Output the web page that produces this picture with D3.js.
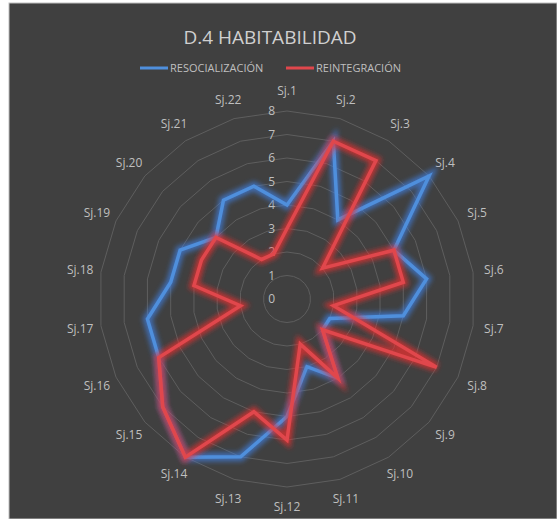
<!DOCTYPE html>
<html>
<head>
<meta charset="utf-8">
<script src="https://cdn.jsdelivr.net/npm/d3@7"></script>
<style>
  body { margin: 0; background: #fff; }
  svg { display: block; }
  text { font-family: "Open Sans", "Liberation Sans", sans-serif; }
</style>
</head>
<body>
<div id="chart"></div>
<script>
// chart data
const subjects = ["Sj.1","Sj.2","Sj.3","Sj.4","Sj.5","Sj.6","Sj.7","Sj.8","Sj.9","Sj.10","Sj.11",
                  "Sj.12","Sj.13","Sj.14","Sj.15","Sj.16","Sj.17","Sj.18","Sj.19","Sj.20","Sj.21","Sj.22"];
const resocializacion = [4,7,4,8,5,6,5,2,2,4,3,5,7,8,7,6,6,5,5,4,5,5];
const reintegracion   = [3,7,7,2,5,5,2,7,2,4,2,6,5,8,7,6,2,4,4,4,2,2];
const ticks = [0,1,2,3,4,5,6,7,8];

const width = 557, height = 519;
const cx = 287, cy = 299, radius = 188;

const svg = d3.select("#chart").append("svg")
  .attr("width", width)
  .attr("height", height);

// white page edge and dark plot card
svg.append("rect").attr("width", width).attr("height", height).attr("fill", "#ffffff");
svg.append("rect").attr("x", 9).attr("y", 3).attr("width", width - 9).attr("height", height - 3)
  .attr("fill", "#404040").attr("stroke", "#bfbfbf").attr("stroke-width", 1);

const defs = svg.append("defs");
defs.append("filter").attr("id", "glow")
  .attr("x", "-20%").attr("y", "-20%").attr("width", "140%").attr("height", "140%")
  .append("feGaussianBlur").attr("stdDeviation", 2.4);

const r = d3.scaleLinear().domain([0, 8]).range([0, radius]);
const angle = d3.scaleLinear().domain([0, subjects.length]).range([0, 2 * Math.PI]);

const g = svg.append("g").attr("transform", "translate(" + cx + "," + cy + ")");

// grid polygons
const radial = d3.lineRadial()
  .angle((d, i) => angle(i))
  .radius(d => r(d))
  .curve(d3.curveLinearClosed);

g.selectAll("path.grid")
  .data(ticks.slice(1))
  .enter().append("path")
  .attr("class", "grid")
  .attr("d", t => radial(subjects.map(() => t)))
  .attr("fill", "none")
  .attr("stroke", "#5e5e5e")
  .attr("stroke-width", 1);

// tick labels
g.selectAll("text.tick")
  .data(ticks)
  .enter().append("text")
  .attr("class", "tick")
  .attr("x", -12)
  .attr("y", t => -r(t))
  .attr("dy", "0.35em")
  .attr("text-anchor", "end")
  .attr("fill", "#bfbfbf")
  .style("font-size", "12px")
  .text(t => t);

// axis labels
g.selectAll("text.axis")
  .data(subjects)
  .enter().append("text")
  .attr("class", "axis")
  .attr("x", (d, i) => Math.sin(angle(i)) * (radius + 21))
  .attr("y", (d, i) => -Math.cos(angle(i)) * (radius + 20))
  .attr("dy", "0.35em")
  .attr("text-anchor", "middle")
  .attr("fill", "#bfbfbf")
  .style("font-size", "12px")
  .text(d => d);

// series
const series = [
  {name: "RESOCIALIZACIÓN", values: resocializacion, color: "#4f8fdc", glow: "#3f7fe0"},
  {name: "REINTEGRACIÓN", values: reintegracion, color: "#e0474c", glow: "#f03030"}
];

series.forEach(s => {
  g.append("path")
    .attr("d", radial(s.values))
    .attr("fill", "none")
    .attr("stroke", s.glow)
    .attr("stroke-opacity", 0.7)
    .attr("stroke-width", 9)
    .attr("stroke-linejoin", "miter")
    .attr("filter", "url(#glow)");
  g.append("path")
    .attr("d", radial(s.values))
    .attr("fill", "none")
    .attr("stroke", s.color)
    .attr("stroke-width", 3.5)
    .attr("stroke-linejoin", "miter");
});

// title
svg.append("text")
  .attr("x", cx - 17)
  .attr("y", 44)
  .attr("text-anchor", "middle")
  .attr("fill", "#d0d0d0")
  .style("font-size", "19px")
  .text("D.4 HABITABILIDAD");

// legend
const legend = svg.append("g").attr("transform", "translate(140,68)");
const lx = [0, 146];
series.forEach((s, i) => {
  const item = legend.append("g").attr("transform", "translate(" + lx[i] + ",0)");
  item.append("line")
    .attr("x1", 0).attr("x2", 28).attr("y1", 0).attr("y2", 0)
    .attr("stroke", s.color).attr("stroke-width", 3);
  item.append("text")
    .attr("x", 30).attr("dy", "0.35em")
    .attr("fill", "#bfbfbf")
    .style("font-size", "11px")
    .text(s.name);
});
</script>
</body>
</html>
